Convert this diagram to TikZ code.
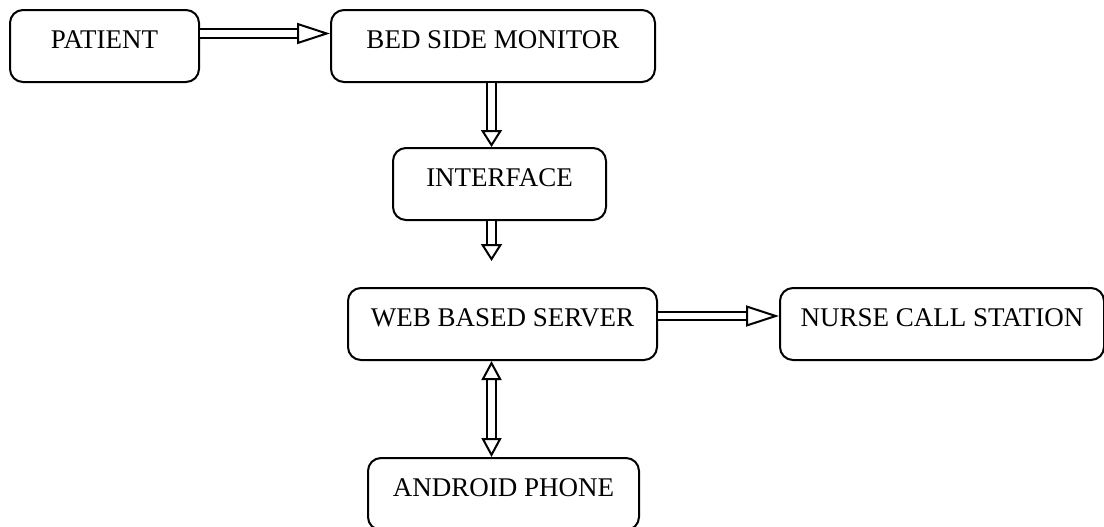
\documentclass[tikz,border=0pt]{standalone}
\usepackage{fontspec}
\setmainfont{Liberation Serif}
\usetikzlibrary{arrows.meta}

\tikzset{
  block/.style={draw, line width=1pt, rounded corners=6.5pt, anchor=north west,
    inner xsep=0pt, inner ysep=0pt, text height=19pt, text depth=17pt,
    font=\fontsize{13.5}{16}\selectfont},
  pipe/.style={draw, line width=1pt, double, double distance=3.4pt},
  longhead/.style={-{Triangle[open, length=16.5pt, width=10.5pt]}},
  shorthead/.style={-{Triangle[open, length=8.5pt, width=10.5pt]}},
  bothheads/.style={{Triangle[open, length=9.5pt, width=10pt]}-{Triangle[open, length=9.5pt, width=10pt]}}
}

\begin{document}
\begin{tikzpicture}[x=0.5pt,y=-0.5pt]
\useasboundingbox (0,0) rectangle (1104,526);

\node[block, minimum width=94.5pt] (patient) at (9,9) {PATIENT};
\node[block, minimum width=162pt] (monitor) at (330,9) {BED SIDE MONITOR};
\node[block, minimum width=106.5pt] (iface) at (392,147) {INTERFACE};

\node[block, minimum width=154.5pt] (server) at (347,287) {WEB BASED SERVER};
\node[block, minimum width=162pt] (nurse) at (779,287) {NURSE CALL STATION};
\node[block, minimum width=135.5pt] (phone) at (367,457) {ANDROID PHONE};

\coordinate (toprow) at (0,33.5);
\coordinate (midrow) at (0,316);
\coordinate (spine) at (491.5,0);
\coordinate (gap) at (491.5,261);

\draw[pipe, longhead] (patient.east |- toprow) -- (monitor.west |- toprow);
\draw[pipe, shorthead] (monitor.south -| spine) -- (iface.north -| spine);
\draw[pipe, shorthead] (iface.south -| spine) -- (gap);
\draw[pipe, longhead] (server.east |- midrow) -- (nurse.west |- midrow);
\draw[pipe, bothheads] (server.south -| spine) -- (phone.north -| spine);

\end{tikzpicture}
\end{document}
